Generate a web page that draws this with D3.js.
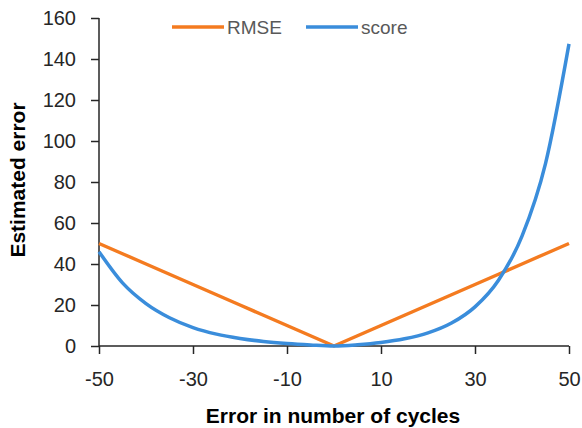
<!DOCTYPE html>
<html>
<head>
<meta charset="utf-8">
<script src="https://cdn.jsdelivr.net/npm/d3@7"></script>
<style>
  body { margin: 0; background: #fff; }
  text { font-family: "Liberation Sans", Arial, sans-serif; }
</style>
</head>
<body>
<div id="chart"></div>
<script>
// error values along the x axis (cycles)
var xValues = [-50, -45, -40, -35, -30, -25, -20, -15, -10, -5, 0, 5, 10, 15, 20, 25, 30, 35, 40, 45, 50];
// RMSE series
var rmseValues = [50, 45, 40, 35, 30, 25, 20, 15, 10, 5, 0, 5, 10, 15, 20, 25, 30, 35, 40, 45, 50];
// score series
var scoreValues = [46, 30.8, 20.7, 13.8, 9, 5.8, 3.7, 2.2, 1.2, 0.5, 0, 0.6, 1.7, 3.5, 6.4, 11.2, 19.1, 32.1, 53.6, 89, 147.4];
var xTicks = [-50, -30, -10, 10, 30, 50];
var yTicks = [0, 20, 40, 60, 80, 100, 120, 140, 160];
var seriesNames = ["RMSE", "score"];
var seriesColors = ["#f47b20", "#3a8ddb"];

var svgWidth = 582;
var svgHeight = 428;
var margin = { top: 18, right: 13, bottom: 82, left: 99 };
var width = svgWidth - margin.left - margin.right;
var height = svgHeight - margin.top - margin.bottom;

var svg = d3.select("#chart")
  .append("svg")
  .attr("width", svgWidth)
  .attr("height", svgHeight);

var chartGroup = svg.append("g")
  .attr("transform", `translate(${margin.left}, ${margin.top})`);

var x = d3.scaleLinear().domain([-50, 50]).range([0, width]);
var y = d3.scaleLinear().domain([0, 160]).range([height, 0]);

// axes (plain hyphen for negatives, like the original)
var bottomAxis = d3.axisBottom(x).tickValues(xTicks).tickFormat(d => String(d))
  .tickSizeOuter(0).tickSize(8).tickPadding(18);
var leftAxis = d3.axisLeft(y).tickValues(yTicks).tickFormat(d => String(d))
  .tickSizeOuter(0).tickSize(8).tickPadding(15);

var xAxis = chartGroup.append("g")
  .attr("transform", `translate(0, ${height})`)
  .call(bottomAxis);

var yAxis = chartGroup.append("g")
  .call(leftAxis);

[xAxis, yAxis].forEach(function (ax) {
  ax.selectAll("path, line").attr("stroke", "#262626").attr("stroke-width", 1.5);
  ax.selectAll("text").attr("fill", "#262626").style("font-size", "20px");
  ax.select(".domain").attr("d", ax === xAxis ? `M0,0H${width}` : `M0,0V${height}`);
});

// lines
var line = d3.line()
  .x((d, i) => x(xValues[i]))
  .y(d => y(d))
  .curve(d3.curveMonotoneX);

var lineStraight = d3.line()
  .x((d, i) => x(xValues[i]))
  .y(d => y(d));

chartGroup.append("path")
  .datum(rmseValues)
  .attr("fill", "none")
  .attr("stroke", seriesColors[0])
  .attr("stroke-width", 3.5)
  .attr("stroke-linejoin", "round")
  .attr("d", lineStraight);

chartGroup.append("path")
  .datum(scoreValues)
  .attr("fill", "none")
  .attr("stroke", seriesColors[1])
  .attr("stroke-width", 3.5)
  .attr("d", line);

// axis titles
svg.append("text")
  .attr("x", 333)
  .attr("y", 423)
  .attr("text-anchor", "middle")
  .style("font-size", "21px")
  .style("font-weight", "bold")
  .attr("fill", "#000")
  .text("Error in number of cycles");

svg.append("text")
  .attr("transform", "translate(25, 180) rotate(-90)")
  .attr("text-anchor", "middle")
  .style("font-size", "21px")
  .style("font-weight", "bold")
  .attr("fill", "#000")
  .text("Estimated error");

// legend
var legendX = [172, 306];
seriesNames.forEach(function (name, i) {
  var g = svg.append("g").attr("transform", `translate(${legendX[i]}, 27)`);
  g.append("line")
    .attr("x1", 0).attr("x2", 52)
    .attr("y1", 0).attr("y2", 0)
    .attr("stroke", seriesColors[i])
    .attr("stroke-width", 3.5);
  g.append("text")
    .attr("x", 55)
    .attr("y", 7)
    .attr("fill", "#595959")
    .style("font-size", "19px")
    .text(name);
});
</script>
</body>
</html>
